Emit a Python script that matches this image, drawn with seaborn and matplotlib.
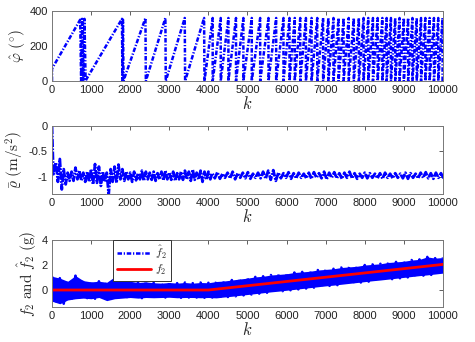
import numpy as np
import pandas as pd
import matplotlib
matplotlib.use("Agg")
import matplotlib.pyplot as plt
import seaborn as sns

# ---------------- data ----------------
# Panel 1: phase estimate, explicit vertices of the early sawtooth
phase_k_early = [0, 0, 720, 745, 770, 800, 830, 860, 880, 1790, 1800, 1815, 1830, 1850,
                 2390, 2400, 2900, 2910, 3395, 3405, 3890, 3900]
phase_v_early = [0, 70, 350, 0, 355, 0, 355, 0, 10, 355, 0, 350, 0, 15,
                 360, 0, 360, 0, 360, 0, 360, 0]
# wrap instants (phase reaches 360 and falls to 0) in the dense part
phase_wraps = [4110, 4316, 4512, 4707, 4895, 5110, 5325, 5537, 5734, 5921, 6075, 6210,
               6350, 6495, 6640, 6785, 6935, 7070, 7200, 7330, 7460, 7590, 7720, 7850,
               7970, 8090, 8210, 8330, 8450, 8560, 8670, 8780, 8890, 9000, 9110, 9220,
               9330, 9440, 9550, 9660, 9770, 9880, 9990]

# Panel 2: rho-bar estimate
rho_k_start = [0, 35]
rho_v_start = [0.0, -0.95]
rho_hi = [-0.72, -0.65, -0.85, -0.92, -0.90, -0.82, -0.88, -0.92, -0.90, -0.85,
          -0.75, -0.80, -0.90, -0.92, -0.85, -0.80, -0.76, -0.85, -0.90, -0.92,
          -0.90, -0.93, -0.88, -0.90, -0.92, -0.90, -0.93, -0.90, -0.88, -0.92,
          -0.90, -0.93, -0.90, -0.88, -0.90, -0.86, -0.92, -0.88, -0.90, -0.90]
rho_lo = [-1.10, -1.25, -1.15, -1.08, -1.08, -1.05, -1.08, -1.10, -1.10, -1.15,
          -1.12, -1.18, -1.10, -1.35, -1.10, -1.12, -1.05, -1.08, -1.05, -1.10,
          -1.07, -1.05, -1.08, -1.05, -1.06, -1.08, -1.05, -1.07, -1.05, -1.06,
          -1.08, -1.05, -1.06, -1.05, -1.08, -1.06, -1.05, -1.10, -1.06, -1.05]
rho_peak = [-0.93, -0.91, -0.94, -0.92, -0.90, -0.93, -0.92, -0.91, -0.94, -0.92,
            -0.90, -0.88, -0.87, -0.92, -0.93, -0.91, -0.93, -0.92, -0.94, -0.92,
            -0.91, -0.93, -0.90, -0.92, -0.91, -0.93, -0.92, -0.90, -0.93, -0.94,
            -0.92, -0.93, -0.94, -0.93, -0.92, -0.94, -0.93, -0.94, -0.92, -0.93,
            -0.94, -0.92, -0.91, -0.93, -0.92, -0.93]
rho_trough = [-1.03, -1.04, -1.02, -1.03, -1.05, -1.02, -1.03, -1.04, -1.02, -1.03,
              -1.04, -1.06, -1.08, -1.03, -1.02, -1.04, -1.03, -1.02, -1.03, -1.04,
              -1.02, -1.03, -1.05, -1.02, -1.03, -1.04, -1.02, -1.03, -1.04, -1.02,
              -1.03, -1.02, -1.03, -1.04, -1.02, -1.03, -1.02, -1.03, -1.04, -1.02,
              -1.03, -1.02, -1.03, -1.04, -1.02, -1.03]

# Panel 3: f2 (true) and f2-hat envelope, k = 0, 200, ..., 10000
f2_k = [0, 4000, 10000]
f2_v = [0.0, 0.0, 2.05]
f2hat_hi = [1.10, 0.95, 0.70, 1.15, 0.75, 0.65, 0.70, 0.62, 1.05, 0.80,
            0.70, 0.60, 0.65, 0.58, 0.55, 0.60, 0.55, 0.60, 0.55, 0.60,
            0.58, 0.68, 0.72, 0.80, 0.88, 0.95, 1.05, 1.10, 1.20, 1.25,
            1.30, 1.40, 1.45, 1.50, 1.60, 1.65, 1.70, 1.80, 1.85, 1.90,
            2.00, 2.05, 2.10, 2.20, 2.25, 2.30, 2.40, 2.45, 2.65, 2.55, 2.60]
f2hat_lo = [-0.90, -1.10, -0.80, -0.70, -0.65, -0.70, -0.60, -0.85, -0.70, -0.65,
            -0.60, -0.65, -0.60, -0.62, -0.60, -0.58, -0.62, -0.60, -0.60, -0.62,
            -0.60, -0.63, -0.56, -0.50, -0.43, -0.36, -0.29, -0.22, -0.15, -0.09,
            -0.02, 0.05, 0.12, 0.19, 0.26, 0.33, 0.39, 0.46, 0.53, 0.60,
            0.67, 0.74, 0.80, 0.87, 0.94, 1.01, 1.08, 1.15, 1.21, 1.28, 1.35]

xticks = list(range(0, 10001, 1000))

# ---------------- build series ----------------
pk = list(phase_k_early)
pv = list(phase_v_early)
for w in phase_wraps:
    pk += [w, w]
    pv += [360, 0]
df_phase = pd.DataFrame({"k": pk, "v": pv})

rk = list(rho_k_start)
rv = list(rho_v_start)
for i, (h, l) in enumerate(zip(rho_hi, rho_lo)):
    k0 = 100 * (i + 1)
    rk += [k0, k0 + 50]
    rv += [h, l]
for i, (h, l) in enumerate(zip(rho_peak, rho_trough)):
    k0 = 4100 + 130 * i
    rk += [k0, k0 + 65]
    rv += [h, l]
df_rho = pd.DataFrame({"k": rk, "v": rv})

fk_grid = np.arange(0, 10001, 200)
fk, fv = [], []
for k0, h, l in zip(fk_grid, f2hat_hi, f2hat_lo):
    fk += [k0, k0 + 100]
    fv += [h, l]
df_fhat = pd.DataFrame({"k": fk[:-1], "v": fv[:-1]})
df_f2 = pd.DataFrame({"k": f2_k, "v": f2_v})

# ---------------- style ----------------
sns.set_theme(style="white")
plt.rcParams["font.family"] = ["Liberation Sans", "DejaVu Sans"]
plt.rcParams["mathtext.fontset"] = "cm"

blue = "#0000ff"
red = "#ff0000"
dashdot = (0, (1.8, 0.7, 0.5, 0.7))
dashdot_fine = (0, (3.0, 0.5, 0.6, 0.5))

fig = plt.figure(figsize=(4.75, 3.42), dpi=100)
ax1 = fig.add_axes([0.1095, 0.7632, 0.823, 0.2047])
ax2 = fig.add_axes([0.1095, 0.4327, 0.823, 0.1989])
ax3 = fig.add_axes([0.1095, 0.1023, 0.823, 0.1959])

sns.lineplot(data=df_phase, x="k", y="v", ax=ax1, sort=False, estimator=None,
             color=blue, lw=1.8, linestyle=dashdot)
sns.lineplot(data=df_rho, x="k", y="v", ax=ax2, sort=False, estimator=None,
             color=blue, lw=2.0, linestyle=dashdot_fine)
ax3.fill_between(fk_grid, f2hat_lo, f2hat_hi, color=blue, lw=0)
sns.lineplot(data=df_fhat, x="k", y="v", ax=ax3, sort=False, estimator=None,
             color=blue, lw=1.8, linestyle=dashdot, label=r"$\hat{f}_2$")
sns.lineplot(data=df_f2, x="k", y="v", ax=ax3, sort=False, estimator=None,
             color=red, lw=2.0, label=r"$f_2$")

ax1.set_ylim(0, 400)
ax1.set_yticks([0, 200, 400])
ax2.set_ylim(-1.34, 0)
ax2.set_yticks([-1, -0.5, 0])
ax2.set_yticklabels(["-1", "-0.5", "0"])
ax3.set_ylim(-1.36, 4)
ax3.set_yticks([0, 2, 4])

ylabels = [r"$\hat{\varphi}\ (^{\circ})$",
           r"$\bar{\varrho}\ (\mathrm{m/s^2})$",
           r"$f_2\ \mathrm{and}\ \hat{f}_2\ \mathrm{(g)}$"]
for ax, yl in zip([ax1, ax2, ax3], ylabels):
    ax.set_xlim(0, 10000)
    ax.set_xticks(xticks)
    ax.set_xlabel(r"$k$", fontsize=12, labelpad=0)
    ax.set_ylabel(yl, fontsize=11, labelpad=2)
    ax.tick_params(direction="in", top=True, right=True, length=3, width=0.6,
                   labelsize=8, colors="#444444", labelcolor="#222222", pad=3)
    for s in ax.spines.values():
        s.set_color("#777777")
        s.set_linewidth(0.7)

leg = ax3.legend(loc="upper left", bbox_to_anchor=(0.156, 1.0), borderaxespad=0,
                 fancybox=False, framealpha=1, edgecolor="#333333", fontsize=8.5,
                 handlelength=2.9, handletextpad=0.3, borderpad=0.35, labelspacing=0.15)
leg.get_frame().set_linewidth(0.7)

fig.savefig("out.png", dpi=100)
